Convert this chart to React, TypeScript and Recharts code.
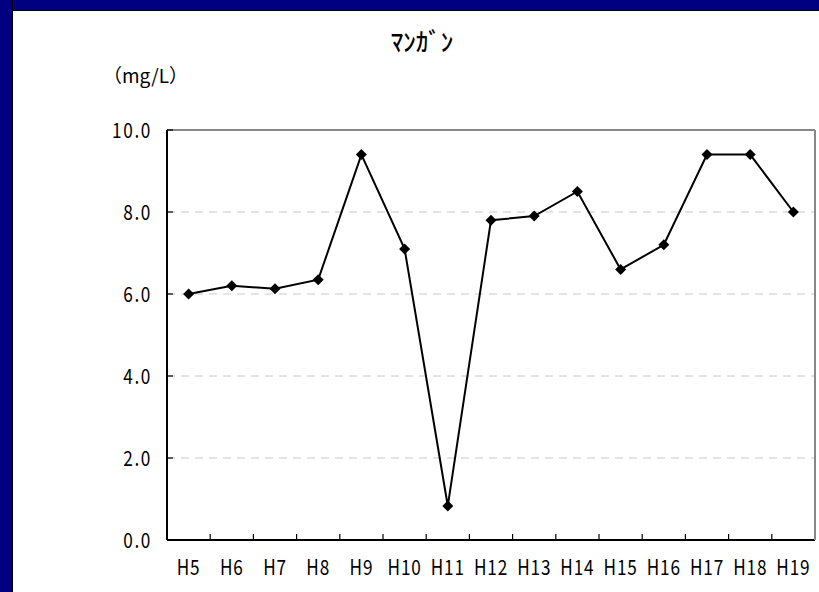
import { CartesianGrid, Line, LineChart, XAxis, YAxis } from 'recharts'

const years = ['H5', 'H6', 'H7', 'H8', 'H9', 'H10', 'H11', 'H12', 'H13', 'H14', 'H15', 'H16', 'H17', 'H18', 'H19']
const manganese = [6.0, 6.2, 6.13, 6.35, 9.4, 7.1, 0.83, 7.8, 7.9, 8.5, 6.6, 7.2, 9.4, 9.4, 8.0]
const yTicks = [0, 2, 4, 6, 8, 10]

const data = years.map((year, i) => ({ year, value: manganese[i] }))

const W = 819
const H = 592
const margin = { top: 129, right: 3, left: 0, bottom: 0 }
const yAxisWidth = 167
const plotWidth = W - yAxisWidth - margin.right - 1
const halfBand = plotWidth / years.length / 2

const jpFont = "'Noto Sans CJK JP', sans-serif"

// narrow gothic-looking labels: squeeze the glyphs horizontally
function Label({ x, y, anchor, children }: { x: number; y: number; anchor: 'middle' | 'end'; children: any }) {
  return (
    <text
      transform={`translate(${x},${y}) scale(0.82,1)`}
      textAnchor={anchor}
      fontSize={21}
      fontFamily={jpFont}
      fill="#000"
      letterSpacing={anchor === 'end' ? 2 : 1}
    >
      {children}
    </text>
  )
}

// category label centred in its band, tick mark on the band's left edge pointing up
function YearTick(props: any) {
  const { x, y, payload } = props
  const half = payload.offset > 0 ? payload.offset : halfBand
  return (
    <g>
      <line x1={x - half} y1={y} x2={x - half} y2={y - 6} stroke="#000" strokeWidth={1.2} />
      <Label x={x} y={y + 35} anchor="middle">{payload.value}</Label>
    </g>
  )
}

function ValueTick(props: any) {
  const { x, y, payload } = props
  return (
    <g>
      <line x1={x} y1={y} x2={x + 6} y2={y} stroke="#000" strokeWidth={1.2} />
      <Label x={x - 15} y={y + 8} anchor="end">{payload.value.toFixed(1)}</Label>
    </g>
  )
}

function Diamond(props: any) {
  const { cx, cy, index } = props
  const r = 5.5
  return <path key={index} d={`M${cx},${cy - r}L${cx + r},${cy}L${cx},${cy + r}L${cx - r},${cy}Z`} fill="#000" />
}

export default function App() {
  return (
    <div style={{ position: 'fixed', left: 0, top: 0, width: W, height: H, background: '#fff', overflow: 'hidden' }}>
      {/* navy frame on the top and left edges */}
      <div style={{ position: 'absolute', left: 0, top: 0, width: W, height: 10, background: '#000080', borderBottom: '1px solid #000' }} />
      <div style={{ position: 'absolute', left: 0, top: 0, width: 12, height: H, background: '#000080', borderRight: '1px solid #000' }} />
      <div
        style={{
          position: 'absolute',
          left: 0,
          width: 844,
          top: 22,
          textAlign: 'center',
          fontFamily: jpFont,
          fontSize: 25,
          fontWeight: 500,
          color: '#000',
        }}
      >
        ﾏﾝｶﾞﾝ
      </div>
      <div
        style={{
          position: 'absolute',
          left: 103,
          top: 61,
          fontFamily: jpFont,
          fontSize: 19,
          color: '#000',
        }}
      >
        （mg/L）
      </div>
      <div style={{ position: 'absolute', left: 0, top: 0 }}>
        <LineChart width={W} height={H} data={data} margin={margin}>
          <CartesianGrid vertical={false} stroke="#c8c8c8" strokeDasharray="8 6" />
          <XAxis
            dataKey="year"
            scale="band"
            height={52}
            interval={0}
            tickSize={0}
            tickMargin={0}
            tickLine={false}
            axisLine={{ stroke: '#000', strokeWidth: 2 }}
            tick={<YearTick />}
          />
          <XAxis
            xAxisId="top"
            orientation="top"
            dataKey="year"
            scale="band"
            height={1}
            tick={false}
            tickLine={false}
            axisLine={{ stroke: '#888', strokeWidth: 2 }}
          />
          <YAxis
            domain={[0, 10]}
            ticks={yTicks}
            width={yAxisWidth}
            tickSize={0}
            tickMargin={0}
            tickLine={false}
            axisLine={{ stroke: '#000', strokeWidth: 2 }}
            tick={<ValueTick />}
          />
          <YAxis
            yAxisId="right"
            orientation="right"
            domain={[0, 10]}
            width={1}
            tick={false}
            tickLine={false}
            axisLine={{ stroke: '#888', strokeWidth: 2 }}
          />
          <Line
            dataKey="value"
            stroke="#000"
            strokeWidth={2}
            dot={Diamond}
            activeDot={false}
            isAnimationActive={false}
          />
        </LineChart>
      </div>
    </div>
  )
}
